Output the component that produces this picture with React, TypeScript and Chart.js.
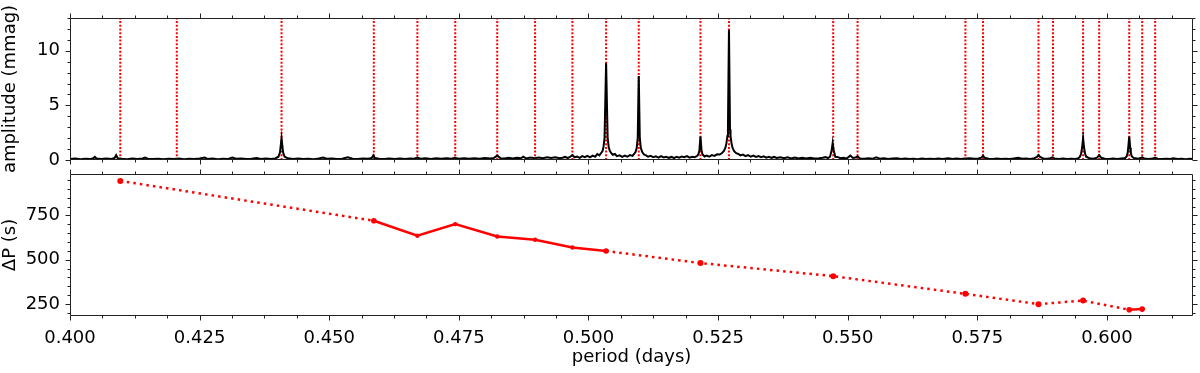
import React, { useEffect, useRef } from 'react';
import { Chart, registerables } from 'chart.js';
Chart.register(...registerables);

// ---------------- data ----------------
const xMin = 0.4;
const xMax = 0.6166;
const xMajorTicks = [0.4, 0.425, 0.45, 0.475, 0.5, 0.525, 0.55, 0.575, 0.6];
const xMinorStep = 0.00625;
const ampTicks = [0, 5, 10];
const ampMinorStep = 1;
const dpTicks = [250, 500, 750];
const dpMinorStep = 50;

// identified mode periods (red dotted vertical lines)
const modePeriods = [
  0.4097, 0.4206, 0.4408, 0.4586, 0.467, 0.4743, 0.4824, 0.4897, 0.4969, 0.5034,
  0.5097, 0.5216, 0.5271, 0.5472, 0.5519, 0.5727, 0.5761, 0.5868, 0.5896, 0.5954,
  0.5985, 0.6043, 0.6068, 0.6093,
];

// period spacing
const dpPeriods = [
  0.4097, 0.4586, 0.467, 0.4743, 0.4824, 0.4897, 0.4969, 0.5034, 0.5216, 0.5472,
  0.5727, 0.5868, 0.5954, 0.6043, 0.6068,
];
const dpValues = [945, 720, 635, 701, 631, 613, 569, 549, 481, 407, 307, 249, 269, 217, 221];
// style of each segment (between point i and i+1): true = solid, false = dotted
const dpSolid = [false, true, true, true, true, true, true, false, false, false, false, false, false, true];
const dpRadius = [3, 2.8, 2.2, 2.2, 2.2, 2.2, 2.2, 2.8, 3, 3, 3, 3, 3, 2.8, 2.8];

// amplitude spectrum (period in days, amplitude in mmag)
const spectrum: [number, number][] = [
  [0.4, 0.1], [0.401, 0.14], [0.402, 0.08], [0.403, 0.12], [0.404, 0.09], [0.4045, 0.16],
  [0.4048, 0.28], [0.4051, 0.14], [0.406, 0.1], [0.407, 0.13], [0.408, 0.09], [0.4086, 0.18],
  [0.4089, 0.45], [0.4092, 0.16], [0.41, 0.11], [0.411, 0.08], [0.412, 0.13], [0.413, 0.1],
  [0.414, 0.14], [0.4145, 0.22], [0.415, 0.12], [0.416, 0.09], [0.417, 0.12], [0.418, 0.08],
  [0.419, 0.12], [0.42, 0.09], [0.421, 0.13], [0.422, 0.08], [0.423, 0.12], [0.424, 0.1],
  [0.425, 0.13], [0.426, 0.22], [0.4265, 0.1], [0.4275, 0.13], [0.4285, 0.08], [0.4295, 0.12],
  [0.4305, 0.1], [0.4313, 0.22], [0.432, 0.11], [0.433, 0.14], [0.434, 0.09], [0.435, 0.12],
  [0.436, 0.18], [0.4368, 0.1], [0.4378, 0.13], [0.4388, 0.09], [0.4396, 0.14], [0.4402, 0.3],
  [0.4405, 0.7], [0.4408, 1.98], [0.4411, 0.7], [0.4414, 0.3], [0.442, 0.15], [0.443, 0.09],
  [0.444, 0.13], [0.445, 0.1], [0.446, 0.12], [0.447, 0.08], [0.448, 0.13], [0.4488, 0.22],
  [0.4495, 0.11], [0.4505, 0.13], [0.4515, 0.09], [0.4525, 0.12], [0.4536, 0.25], [0.4545, 0.12],
  [0.4555, 0.09], [0.4565, 0.13], [0.4575, 0.11], [0.4582, 0.18], [0.4585, 0.42], [0.4588, 0.18],
  [0.4596, 0.12], [0.4606, 0.09], [0.4616, 0.14], [0.4626, 0.1], [0.4636, 0.13], [0.4646, 0.09],
  [0.4656, 0.14], [0.4664, 0.12], [0.467, 0.22], [0.4676, 0.12], [0.4686, 0.15], [0.4696, 0.1],
  [0.4706, 0.16], [0.4716, 0.11], [0.4726, 0.15], [0.4736, 0.12], [0.4742, 0.2], [0.475, 0.12],
  [0.476, 0.16], [0.477, 0.11], [0.478, 0.17], [0.479, 0.12], [0.48, 0.18], [0.481, 0.13],
  [0.4818, 0.19], [0.4824, 0.4], [0.483, 0.17], [0.4838, 0.14], [0.4846, 0.2], [0.4854, 0.14],
  [0.4862, 0.21], [0.487, 0.16], [0.4874, 0.3], [0.488, 0.15], [0.4888, 0.22], [0.4896, 0.16],
  [0.4904, 0.23], [0.4912, 0.17], [0.492, 0.25], [0.4928, 0.18], [0.4936, 0.24], [0.4944, 0.17],
  [0.495, 0.2], [0.4955, 0.28], [0.496, 0.18], [0.4965, 0.3], [0.4969, 0.45], [0.4973, 0.25],
  [0.4978, 0.32], [0.4983, 0.2], [0.4988, 0.35], [0.4993, 0.26], [0.4998, 0.38], [0.5003, 0.24],
  [0.5008, 0.4], [0.5013, 0.3], [0.5017, 0.55], [0.5021, 0.42], [0.5024, 0.62], [0.5027, 0.8],
  [0.5029, 1.2], [0.5031, 2.0], [0.5034, 8.85], [0.5037, 2.0], [0.5039, 1.2], [0.5041, 0.85],
  [0.5044, 0.62], [0.5047, 0.48], [0.5051, 0.55], [0.5055, 0.35], [0.506, 0.42], [0.5065, 0.28],
  [0.507, 0.4], [0.5075, 0.3], [0.508, 0.45], [0.5085, 0.38], [0.5088, 0.55], [0.5091, 0.75],
  [0.5093, 1.1], [0.5095, 2.0], [0.5097, 7.7], [0.5099, 2.0], [0.5101, 1.1], [0.5104, 0.7],
  [0.5107, 0.5], [0.5111, 0.42], [0.5115, 0.3], [0.512, 0.38], [0.5125, 0.25], [0.513, 0.33],
  [0.5135, 0.22], [0.514, 0.36], [0.5145, 0.24], [0.515, 0.3], [0.5155, 0.2], [0.516, 0.28],
  [0.5165, 0.18], [0.517, 0.3], [0.5175, 0.22], [0.518, 0.32], [0.5185, 0.25], [0.519, 0.35],
  [0.5195, 0.22], [0.52, 0.3], [0.5205, 0.26], [0.5209, 0.35], [0.5212, 0.5], [0.5214, 0.9],
  [0.5216, 2.15], [0.5218, 0.9], [0.522, 0.5], [0.5224, 0.32], [0.5228, 0.4], [0.5233, 0.3],
  [0.5238, 0.45], [0.5243, 0.38], [0.5248, 0.52], [0.5253, 0.5], [0.5257, 0.62], [0.5261, 0.8],
  [0.5264, 1.1], [0.5266, 1.5], [0.5268, 2.2], [0.5269, 2.8], [0.5271, 11.9], [0.5273, 2.8],
  [0.5274, 2.2], [0.5276, 1.5], [0.5278, 1.1], [0.5281, 0.8], [0.5285, 0.62], [0.5289, 0.55],
  [0.5293, 0.42], [0.5298, 0.5], [0.5303, 0.35], [0.5308, 0.45], [0.5313, 0.3], [0.5318, 0.4],
  [0.5323, 0.28], [0.5328, 0.36], [0.5333, 0.25], [0.5338, 0.34], [0.5343, 0.22], [0.5348, 0.3],
  [0.5353, 0.2], [0.5358, 0.28], [0.5363, 0.18], [0.537, 0.25], [0.5377, 0.16], [0.5384, 0.24],
  [0.5391, 0.15], [0.5398, 0.22], [0.5405, 0.14], [0.5412, 0.2], [0.542, 0.13], [0.5428, 0.2],
  [0.5436, 0.14], [0.5445, 0.15], [0.5452, 0.2], [0.5457, 0.26], [0.5462, 0.18], [0.5466, 0.3],
  [0.5469, 0.9], [0.5471, 1.55], [0.5473, 0.9], [0.5476, 0.3], [0.548, 0.28], [0.5486, 0.16],
  [0.5492, 0.2], [0.5498, 0.14], [0.5505, 0.4], [0.551, 0.18], [0.5515, 0.22], [0.5519, 0.32],
  [0.5524, 0.14], [0.5532, 0.12], [0.554, 0.16], [0.5548, 0.11], [0.5555, 0.25], [0.5562, 0.12],
  [0.557, 0.15], [0.5578, 0.1], [0.5586, 0.14], [0.5595, 0.16], [0.5603, 0.1], [0.5611, 0.13],
  [0.5619, 0.09], [0.5627, 0.12], [0.5635, 0.08], [0.5643, 0.13], [0.5651, 0.1], [0.5659, 0.12],
  [0.5667, 0.09], [0.5675, 0.13], [0.5683, 0.1], [0.5694, 0.16], [0.5702, 0.1], [0.571, 0.13],
  [0.5718, 0.09], [0.5727, 0.14], [0.5736, 0.16], [0.5744, 0.11], [0.5752, 0.14], [0.5758, 0.22],
  [0.5761, 0.4], [0.5764, 0.2], [0.5772, 0.12], [0.578, 0.09], [0.5788, 0.13], [0.5796, 0.1],
  [0.5804, 0.12], [0.5812, 0.09], [0.582, 0.13], [0.5829, 0.2], [0.5836, 0.11], [0.5844, 0.14],
  [0.5852, 0.1], [0.586, 0.16], [0.5865, 0.28], [0.5868, 0.45], [0.5871, 0.28], [0.5877, 0.14],
  [0.5885, 0.11], [0.5891, 0.16], [0.5895, 0.25], [0.5899, 0.13], [0.5907, 0.1], [0.5915, 0.13],
  [0.5923, 0.09], [0.5931, 0.12], [0.5939, 0.1], [0.5945, 0.16], [0.5948, 0.3], [0.595, 0.55],
  [0.5952, 1.1], [0.5954, 2.0], [0.5956, 1.1], [0.5958, 0.55], [0.596, 0.3], [0.5966, 0.16],
  [0.5974, 0.12], [0.5981, 0.22], [0.5985, 0.45], [0.5989, 0.2], [0.5996, 0.12], [0.6004, 0.09],
  [0.6012, 0.13], [0.602, 0.1], [0.6028, 0.14], [0.6035, 0.18], [0.6038, 0.32], [0.604, 0.65],
  [0.6041, 1.1], [0.6043, 2.15], [0.6045, 1.1], [0.6046, 0.65], [0.6048, 0.32], [0.6052, 0.18],
  [0.606, 0.12], [0.6065, 0.18], [0.6068, 0.25], [0.6072, 0.14], [0.608, 0.1], [0.6088, 0.13],
  [0.6093, 0.2], [0.6098, 0.11], [0.6106, 0.09], [0.6114, 0.12], [0.6122, 0.1], [0.6128, 0.15],
  [0.6136, 0.09], [0.6144, 0.12], [0.6152, 0.08], [0.616, 0.11], [0.6166, 0.1],
];

// ---------------- styling ----------------
const FONT = 'DejaVu Sans';
const AXIS_COLOR = '#222';

const frameTicksPlugin = {
  id: 'frameTicks',
  afterDraw(chart: any, _args: any, opts: any) {
    const { ctx, chartArea: a, scales } = chart;
    const xs = scales.x;
    const ys = scales.y;
    const L = Math.round(a.left) + 0.5;
    const R = Math.round(a.right) - 0.5;
    const T = Math.round(a.top) + 0.5;
    const B = Math.round(a.bottom) - 0.5;
    ctx.save();
    ctx.strokeStyle = AXIS_COLOR;
    ctx.lineWidth = 1;
    ctx.beginPath();
    ctx.rect(L, T, R - L, B - T);
    ctx.stroke();
    const major = 5;
    const minor = 3;
    ctx.beginPath();
    const xTick = (v: number, len: number) => {
      const p = Math.round(xs.getPixelForValue(v)) + 0.5;
      ctx.moveTo(p, B); ctx.lineTo(p, B + len);
      ctx.moveTo(p, T); ctx.lineTo(p, T - len);
    };
    const yTick = (v: number, len: number) => {
      const p = Math.round(ys.getPixelForValue(v)) + 0.5;
      ctx.moveTo(L, p); ctx.lineTo(L - len, p);
      ctx.moveTo(R, p); ctx.lineTo(R + len, p);
    };
    for (let i = 0; ; i++) {
      const v = xMin + i * xMinorStep;
      if (v > xMax + 1e-9) break;
      const isMajor = xMajorTicks.some((m) => Math.abs(m - v) < 1e-7);
      xTick(v, isMajor ? major : minor);
    }
    const yMin = ys.min;
    const yMax = ys.max;
    const step = opts.yMinorStep;
    for (let v = Math.ceil(yMin / step) * step; v <= yMax + 1e-9; v += step) {
      const isMajor = opts.yMajor.some((m: number) => Math.abs(m - v) < 1e-7);
      yTick(v, isMajor ? major : minor);
    }
    ctx.stroke();
    ctx.restore();
  },
};

const tickFont = { family: FONT, size: 18 };

const fitY = (s: any) => {
  s.width = 70;
  s.paddingTop = 0;
  s.paddingBottom = 0;
};
const fitX = (s: any) => {
  s.height = 57;
  s.paddingLeft = 0;
  s.paddingRight = 0;
};

function TopPanel() {
  const ref = useRef<HTMLCanvasElement>(null);
  useEffect(() => {
    const datasets: any[] = [
      {
        data: spectrum.map(([x, y]) => ({ x, y })),
        borderColor: '#000',
        borderWidth: 2,
        pointRadius: 0,
        tension: 0,
        order: 0,
      },
      ...modePeriods.map((p) => ({
        data: [{ x: p, y: 0 }, { x: p, y: 13 }],
        borderColor: '#ff0000',
        borderWidth: 2,
        borderDash: [2, 1.7],
        pointRadius: 0,
        order: 1,
      })),
    ];
    const chart = new Chart(ref.current!, {
      type: 'line',
      data: { datasets },
      options: {
        animation: false,
        responsive: false,
        devicePixelRatio: 1,
        layout: { padding: { left: 0, right: 7, top: 18, bottom: 18 } },
        plugins: {
          legend: { display: false },
          tooltip: { enabled: false },
          frameTicks: { yMajor: ampTicks, yMinorStep: ampMinorStep },
        } as any,
        scales: {
          x: { type: 'linear', min: xMin, max: xMax, display: false },
          y: {
            type: 'linear',
            min: 0,
            max: 13,
            afterFit: fitY,
            afterBuildTicks: (s: any) => { s.ticks = ampTicks.map((v) => ({ value: v })); },
            grid: { display: false, drawTicks: false },
            border: { display: false },
            ticks: { font: tickFont, color: '#000', padding: 10 },
            title: {
              display: true,
              text: 'amplitude (mmag)',
              font: { family: FONT, size: 18, lineHeight: 1.1 },
              color: '#000',
              padding: { top: 0, bottom: 0 },
            },
          },
        },
      },
      plugins: [frameTicksPlugin],
    });
    return () => chart.destroy();
  }, []);
  return <canvas ref={ref} width={1200} height={178} style={{ position: 'absolute', left: 0, top: 0 }} />;
}

function BottomPanel() {
  const ref = useRef<HTMLCanvasElement>(null);
  useEffect(() => {
    const chart = new Chart(ref.current!, {
      type: 'line',
      data: {
        datasets: [
          {
            data: dpPeriods.map((x, i) => ({ x, y: dpValues[i] })),
            borderColor: '#ff0000',
            backgroundColor: '#ff0000',
            borderWidth: 2.5,
            pointRadius: dpRadius,
            pointBorderWidth: 0,
            pointBackgroundColor: '#ff0000',
            tension: 0,
            segment: {
              borderDash: (ctx: any) => (dpSolid[ctx.p0DataIndex] ? [] : [2.5, 4.1]),
            },
          } as any,
        ],
      },
      options: {
        animation: false,
        responsive: false,
        devicePixelRatio: 1,
        layout: { padding: { left: 0, right: 7, top: 6, bottom: 0 } },
        plugins: {
          legend: { display: false },
          tooltip: { enabled: false },
          frameTicks: { yMajor: dpTicks, yMinorStep: dpMinorStep },
        } as any,
        scales: {
          x: {
            type: 'linear',
            min: xMin,
            max: xMax,
            afterFit: fitX,
            afterBuildTicks: (s: any) => { s.ticks = xMajorTicks.map((v) => ({ value: v })); },
            grid: { display: false, drawTicks: false },
            border: { display: false },
            ticks: {
              font: tickFont,
              color: '#000',
              padding: 12,
              maxRotation: 0,
              autoSkip: false,
              callback: (v: any) => Number(v).toFixed(3),
            },
            title: {
              display: true,
              text: 'period (days)',
              font: { family: FONT, size: 18 },
              color: '#000',
              padding: { top: 0, bottom: 5 },
            },
          },
          y: {
            type: 'linear',
            min: 182,
            max: 984,
            afterFit: fitY,
            afterBuildTicks: (s: any) => { s.ticks = dpTicks.map((v) => ({ value: v })); },
            grid: { display: false, drawTicks: false },
            border: { display: false },
            ticks: { font: tickFont, color: '#000', padding: 10 },
            title: {
              display: true,
              text: 'ΔP (s)',
              font: { family: FONT, size: 18, lineHeight: 1.1 },
              color: '#000',
              padding: { top: 0, bottom: 0 },
            },
          },
        },
      },
      plugins: [frameTicksPlugin],
    });
    return () => chart.destroy();
  }, []);
  return <canvas ref={ref} width={1200} height={205} style={{ position: 'absolute', left: 0, top: 168 }} />;
}

export default function App() {
  return (
    <div style={{ position: 'absolute', left: 0, top: 0, width: 1200, height: 373, background: '#fff' }}>
      <BottomPanel />
      <TopPanel />
    </div>
  );
}
